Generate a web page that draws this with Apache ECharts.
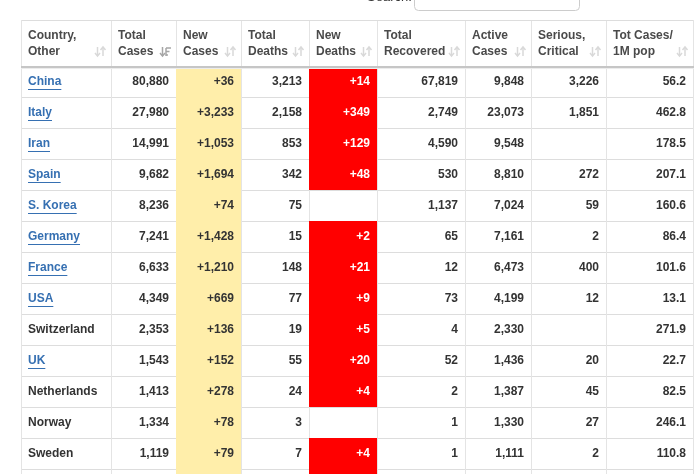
<!DOCTYPE html>
<html>
<head>
<meta charset="utf-8">
<script src="https://cdn.jsdelivr.net/npm/echarts@6/dist/echarts.min.js"></script>
<style>
  html, body { margin: 0; padding: 0; background: #fff; }
  #chart { width: 700px; height: 474px; }
</style>
</head>
<body>
<div id="chart"></div>
<script>
const headers = [
  ['Country,', 'Other'], ['Total', 'Cases'], ['New', 'Cases'], ['Total', 'Deaths'],
  ['New', 'Deaths'], ['Total', 'Recovered'], ['Active', 'Cases'], ['Serious,', 'Critical'],
  ['Tot Cases/', '1M pop']
]
const countries = ['China', 'Italy', 'Iran', 'Spain', 'S. Korea', 'Germany', 'France', 'USA',
  'Switzerland', 'UK', 'Netherlands', 'Norway', 'Sweden', 'Belgium']
const linked = [true, true, true, true, true, true, true, true, false, true, false, false, false, false]
const totalCases = [80880, 27980, 14991, 9682, 8236, 7241, 6633, 4349, 2353, 1543, 1413, 1334, 1119, 1058]
const newCases = [36, 3233, 1053, 1694, 74, 1428, 1210, 669, 136, 152, 278, 78, 79, 172]
const totalDeaths = [3213, 2158, 853, 342, 75, 15, 148, 77, 19, 55, 24, 3, 7, 5]
const newDeaths = [14, 349, 129, 48, null, 2, 21, 9, 5, 20, 4, null, 4, 1]
const totalRecovered = [67819, 2749, 4590, 530, 1137, 65, 12, 73, 4, 52, 2, 1, 1, 1]
const activeCases = [9848, 23073, 9548, 8810, 7024, 7161, 6473, 4199, 2330, 1436, 1387, 1330, 1111, 1052]
const seriousCritical = [3226, 1851, null, 272, 59, 2, 400, 12, null, 20, 45, 27, 2, 33]
const casesPerMillion = [56.2, 462.8, 178.5, 207.1, 160.6, 86.4, 101.6, 13.1, 271.9, 22.7, 82.5, 246.1, 110.8, 91.3]

// column edges in table units (table starts at x=21)
const colEdges = [0, 90, 155, 220, 288, 356, 444, 510, 585, 672]
const visibleRows = 13
const sortedCol = 1
const FONT = '"Liberation Sans", Arial, sans-serif'

const fmt = v => v == null ? '' : v.toLocaleString('en-US')
const fmtPlus = v => v == null ? '' : '+' + v.toLocaleString('en-US')
const columns = [
  r => countries[r],
  r => fmt(totalCases[r]),
  r => fmtPlus(newCases[r]),
  r => fmt(totalDeaths[r]),
  r => fmtPlus(newDeaths[r]),
  r => fmt(totalRecovered[r]),
  r => fmt(activeCases[r]),
  r => fmt(seriousCritical[r]),
  r => casesPerMillion[r].toFixed(1)
]

const measure = document.createElement('canvas').getContext('2d')
measure.font = 'bold 12px ' + FONT

const bodyData = []
countries.forEach((c, r) => colEdges.slice(0, -1).forEach((e, col) => bodyData.push([col, r])))

function cellBox(api, col, row) {
  const a = api.coord([colEdges[col], row])
  const b = api.coord([colEdges[col + 1], row])
  const h = Math.abs(api.size([0, 1])[1])
  return { x0: a[0], x1: b[0], cy: a[1], y0: a[1] - h / 2, h: h }
}

function vline(x, y0, y1, color) {
  return { type: 'line', shape: { x1: x, y1: y0, x2: x, y2: y1 }, style: { stroke: color, lineWidth: 1 } }
}
function hline(y, x0, x1, color, w) {
  return { type: 'line', shape: { x1: x0, y1: y, x2: x1, y2: y }, style: { stroke: color, lineWidth: w || 1 } }
}

function renderBody(params, api) {
  const col = api.value(0), row = api.value(1)
  const box = cellBox(api, col, row)
  const text = columns[col](row)
  const children = []
  let fill = null, color = '#333'
  if (col === 2) fill = '#ffeeaa'
  if (col === 4 && newDeaths[row] != null) { fill = '#ff0000'; color = '#fff' }
  if (fill) children.push({ type: 'rect', shape: { x: box.x0, y: box.y0, width: box.x1 - box.x0, height: box.h }, style: { fill: fill } })
  children.push(hline(Math.round(box.y0 + box.h) + 0.5, box.x0, box.x1 + 1, '#dddddd'))
  children.push(vline(box.x1 + 0.5, box.y0, box.y0 + box.h, '#e4e4e4'))
  if (col === 0) children.push(vline(box.x0 + 0.5, box.y0, box.y0 + box.h, '#e4e4e4'))
  const isLink = col === 0 && linked[row]
  const tx = col === 0 ? box.x0 + 7 : box.x1 - 7
  children.push({
    type: 'text',
    style: {
      x: tx, y: box.cy + 0.5, text: text, fill: isLink ? '#3670b2' : color,
      font: 'bold 12px ' + FONT, align: col === 0 ? 'left' : 'right', verticalAlign: 'middle'
    }
  })
  if (isLink) {
    const w = measure.measureText(text).width
    children.push(hline(Math.round(box.cy + 7) + 0.5, tx, tx + w, '#3670b2'))
  }
  return { type: 'group', children: children }
}

function sortIcon(xr, yt, sorted) {
  // two thin arrows (↓↑) like the datatables sort glyph
  const c = sorted ? '#a6a6a6' : '#d9d9d9'
  const items = []
  const xa = xr - 7.5, yb = yt + 9
  items.push({ type: 'line', shape: { x1: xa, y1: yt, x2: xa, y2: yb }, style: { stroke: c, lineWidth: 1.5 } })
  items.push({ type: 'polyline', shape: { points: [[xa - 2.5, yb - 3], [xa, yb], [xa + 2.5, yb - 3]] }, style: { stroke: c, lineWidth: 1.5, fill: null } })
  if (sorted) {
    const xs = xr - 4
    items.push({ type: 'line', shape: { x1: xs, y1: yt + 1, x2: xs + 5, y2: yt + 1 }, style: { stroke: c, lineWidth: 1.5 } })
    items.push({ type: 'line', shape: { x1: xs, y1: yt + 4.5, x2: xs + 3.5, y2: yt + 4.5 }, style: { stroke: c, lineWidth: 1.5 } })
    items.push({ type: 'line', shape: { x1: xs, y1: yt + 8, x2: xs + 2, y2: yt + 8 }, style: { stroke: c, lineWidth: 1.5 } })
    items.push({ type: 'line', shape: { x1: xs, y1: yt + 1, x2: xs, y2: yb }, style: { stroke: c, lineWidth: 1.5 } })
  } else {
    const xb = xr - 2
    items.push({ type: 'line', shape: { x1: xb, y1: yt, x2: xb, y2: yb }, style: { stroke: c, lineWidth: 1.5 } })
    items.push({ type: 'polyline', shape: { points: [[xb - 2.5, yt + 3], [xb, yt], [xb + 2.5, yt + 3]] }, style: { stroke: c, lineWidth: 1.5, fill: null } })
  }
  return items
}

function renderHeader(params, api) {
  const col = api.value(0)
  const box = cellBox(api, col, 0)
  const children = []
  children.push(hline(Math.round(box.y0) + 0.5, box.x0, box.x1 + 1, '#dddddd'))
  children.push(vline(box.x1 + 0.5, box.y0, box.y0 + box.h, '#e4e4e4'))
  if (col === 0) children.push(vline(box.x0 + 0.5, box.y0, box.y0 + box.h, '#e4e4e4'))
  const bottomY = Math.round(box.y0 + box.h) + 1
  children.push(hline(bottomY + 1.5, box.x0, box.x1 + 1, '#ececec'))
  children.push(hline(bottomY, box.x0, box.x1 + 1, '#c6c6c6', 2))
  headers[col].forEach((line, i) => {
    children.push({
      type: 'text',
      style: { x: box.x0 + 7, y: box.cy - 7 + i * 16, text: line, fill: '#4a4a4a', font: 'bold 12px ' + FONT, verticalAlign: 'middle' }
    })
  })
  sortIcon(box.x1 - 6, box.cy + 4, col === sortedCol).forEach(el => children.push(el))
  return { type: 'group', children: children }
}

const chart = echarts.init(document.getElementById('chart'))
const hiddenAxis = { axisLine: { show: false }, axisTick: { show: false }, axisLabel: { show: false }, splitLine: { show: false } }
chart.setOption({
  animation: false,
  grid: [
    { left: 21, width: 672, top: 66, height: visibleRows * 31 },
    { left: 21, width: 672, top: 20, height: 46 }
  ],
  xAxis: [
    Object.assign({ type: 'value', min: 0, max: 672, gridIndex: 0 }, hiddenAxis),
    Object.assign({ type: 'value', min: 0, max: 672, gridIndex: 1 }, hiddenAxis)
  ],
  yAxis: [
    Object.assign({ type: 'value', min: -0.5, max: visibleRows - 0.5, inverse: true, gridIndex: 0 }, hiddenAxis),
    Object.assign({ type: 'category', data: ['header'], gridIndex: 1 }, hiddenAxis)
  ],
  graphic: [
    { type: 'text', left: 367, top: -9, style: { text: 'Search:', fill: '#333', font: '13px ' + FONT } },
    { type: 'rect', shape: { x: 414.5, y: -20, width: 165, height: 30.5, r: 4 }, style: { fill: '#fff', stroke: '#cccccc', lineWidth: 1 } }
  ],
  series: [
    { type: 'custom', xAxisIndex: 0, yAxisIndex: 0, data: bodyData, renderItem: renderBody, clip: false },
    { type: 'custom', xAxisIndex: 1, yAxisIndex: 1, data: colEdges.slice(0, -1).map((e, c) => [c, 0]), renderItem: renderHeader, clip: false }
  ]
})
</script>
</body>
</html>
